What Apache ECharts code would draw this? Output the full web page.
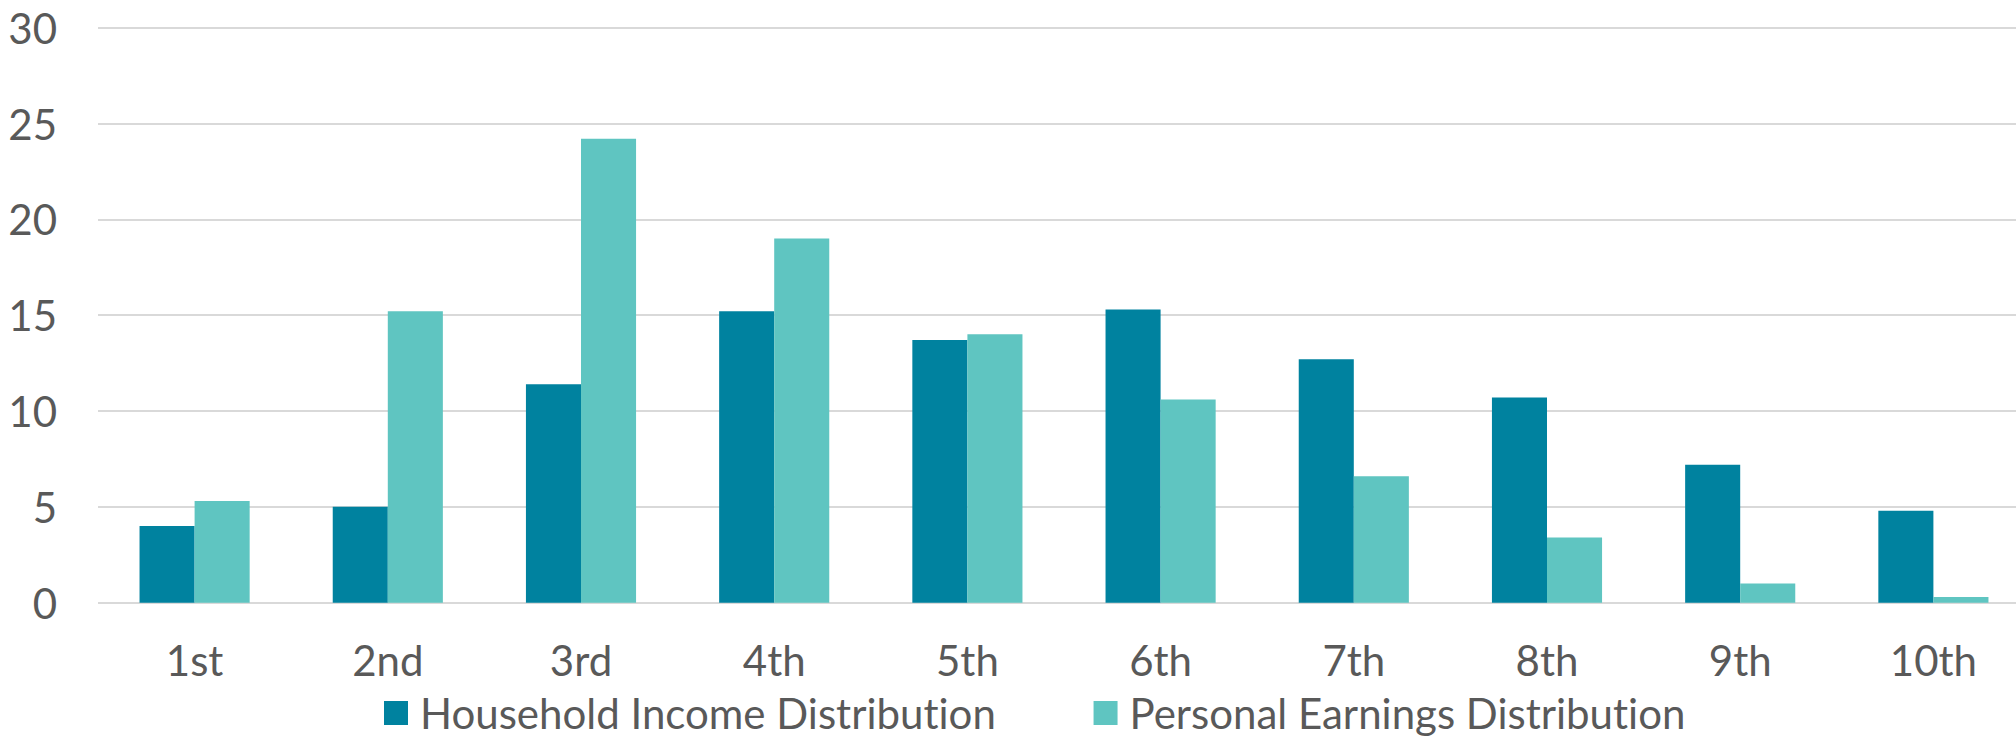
<!DOCTYPE html>
<html>
<head>
<meta charset="utf-8">
<title>Income and Earnings Distribution by Decile</title>
<script src="https://cdn.jsdelivr.net/npm/echarts@6/dist/echarts.min.js"></script>
<style>
  html, body { margin: 0; padding: 0; background: #ffffff; }
  #chart { width: 2016px; height: 739px; overflow: hidden; }
  #chart text { font-variant-ligatures: none !important; font-feature-settings: "liga" 0, "clig" 0 !important; }
</style>
</head>
<body>
<div id="chart"></div>
<script>
// Deciles along the x axis
const deciles = ['1st', '2nd', '3rd', '4th', '5th', '6th', '7th', '8th', '9th', '10th'];

// Share (%) in each decile
const householdIncome = [4.0, 5.0, 11.4, 15.2, 13.7, 15.3, 12.7, 10.7, 7.2, 4.8];
const personalEarnings = [5.3, 15.2, 24.2, 19.0, 14.0, 10.6, 6.6, 3.4, 1.0, 0.3];

const seriesNames = ['Household Income Distribution', 'Personal Earnings Distribution'];
const seriesColors = ['#00829f', '#5fc5c1'];

const textColor = '#595959';
const fontFamily = 'Lato, "Noto Sans", sans-serif';
const fontSize = 42;

const chart = echarts.init(document.getElementById('chart'), null, { renderer: 'svg' });

chart.setOption({
  animation: false,
  backgroundColor: '#ffffff',
  textStyle: { fontFamily: fontFamily },
  // the plot runs a little past the right edge of the canvas
  grid: {
    left: 98, width: 1932, top: 27.7, bottom: 136.3,
    containLabel: false,
    outerBoundsMode: 'none'
  },
  legend: {
    left: 379,
    top: 687,
    itemWidth: 24,
    itemHeight: 24,
    itemGap: 97,
    icon: 'rect',
    data: seriesNames,
    textStyle: {
      color: textColor,
      fontSize: fontSize,
      fontFamily: fontFamily,
      lineHeight: 42,
      padding: [0, 0, 0, 7]
    }
  },
  xAxis: {
    type: 'category',
    data: deciles,
    axisLine: { show: false },
    axisTick: { show: false },
    axisLabel: {
      color: textColor,
      fontSize: fontSize,
      fontFamily: fontFamily,
      margin: 36
    }
  },
  yAxis: {
    type: 'value',
    min: 0,
    max: 30,
    interval: 5,
    axisLine: { show: false },
    axisTick: { show: false },
    axisLabel: {
      color: textColor,
      fontSize: fontSize,
      fontFamily: fontFamily,
      margin: 41
    },
    splitLine: { lineStyle: { color: '#d9d9d9', width: 2 } }
  },
  series: [
    {
      name: seriesNames[0],
      type: 'bar',
      data: householdIncome,
      itemStyle: { color: seriesColors[0] },
      barGap: '0%',
      barCategoryGap: '43%'
    },
    {
      name: seriesNames[1],
      type: 'bar',
      data: personalEarnings,
      itemStyle: { color: seriesColors[1] },
      barGap: '0%',
      barCategoryGap: '43%'
    }
  ]
});
</script>
</body>
</html>
